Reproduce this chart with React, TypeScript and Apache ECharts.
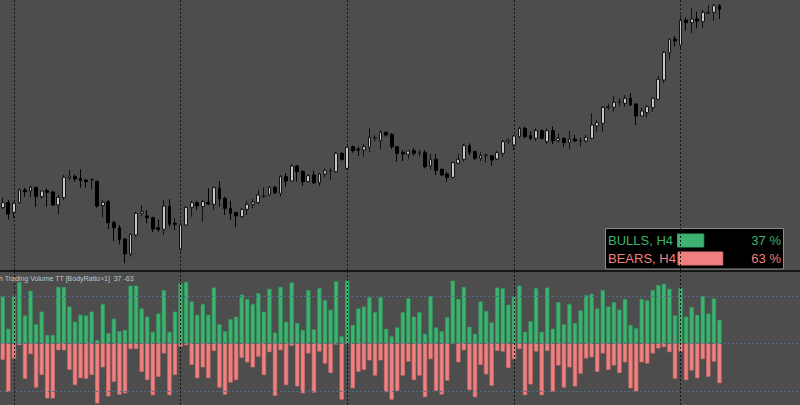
import React, { useEffect, useRef } from "react";
import * as echarts from "echarts";

// Price values (chart units, hidden price scale)
const opens = [
  187, 202, 173, 202, 240, 237, 248, 220, 238, 234, 195, 217, 277, 281, 275, 270, 270, 266, 193, 205,
  142, 127, 93, 48, 105, 170, 162, 157, 127, 122, 192, 140, 63, 135, 188, 202, 190, 203, 197, 245,
  215, 185, 172, 160, 182, 197, 202, 220, 225, 248, 230, 280, 267, 312, 295, 265, 285, 262, 288, 296,
  295, 350, 305, 370, 363, 360, 368, 395, 388, 413, 407, 370, 353, 347, 358, 351, 352, 312, 332, 302,
  288, 278, 320, 332, 373, 355, 335, 343, 343, 333, 350, 386, 375, 400, 425, 403, 395, 418, 385, 418,
  388, 395, 382, 393, 387, 387, 395, 432, 440, 487, 488, 502, 500, 515, 498, 462, 472, 487, 512, 570,
  652, 693, 675, 750, 742, 753, 745, 770, 773, 793,
];
const closes = [
  202, 168, 200, 240, 235, 248, 220, 237, 233, 195, 218, 278, 282, 273, 268, 265, 272, 192, 203, 142,
  127, 92, 48, 107, 170, 175, 157, 123, 122, 192, 137, 137, 135, 188, 202, 192, 205, 198, 247, 213,
  185, 170, 162, 182, 197, 204, 225, 222, 248, 232, 280, 267, 312, 295, 265, 283, 262, 288, 298, 298,
  350, 332, 368, 358, 360, 370, 398, 398, 413, 405, 370, 350, 348, 357, 350, 353, 310, 332, 298, 285,
  278, 322, 332, 373, 353, 335, 343, 345, 330, 352, 385, 390, 402, 425, 400, 395, 418, 395, 418, 388,
  395, 382, 393, 387, 388, 398, 435, 442, 488, 490, 503, 505, 515, 495, 462, 477, 490, 515, 572, 653,
  692, 687, 748, 742, 753, 747, 773, 773, 793, 782,
];
const lows = [
  183, 152, 155, 198, 220, 218, 190, 213, 190, 192, 167, 210, 270, 265, 247, 247, 242, 187, 157, 123,
  87, 77, 20, 40, 100, 160, 140, 113, 115, 105, 130, 120, 57, 132, 160, 180, 145, 195, 180, 190,
  165, 150, 128, 157, 165, 185, 198, 217, 220, 228, 220, 250, 265, 265, 252, 262, 258, 252, 278, 270,
  292, 328, 300, 352, 342, 340, 353, 385, 362, 400, 363, 325, 327, 333, 342, 340, 305, 300, 285, 282,
  265, 275, 318, 325, 345, 330, 327, 322, 313, 330, 340, 377, 360, 395, 395, 390, 387, 392, 378, 377,
  383, 370, 362, 383, 370, 383, 392, 415, 415, 480, 475, 492, 490, 492, 435, 460, 458, 475, 510, 560,
  632, 670, 660, 718, 710, 725, 725, 768, 748, 753,
];
const highs = [
  218, 210, 205, 245, 247, 253, 250, 240, 245, 237, 225, 285, 300, 287, 302, 272, 275, 268, 210, 210,
  148, 135, 95, 110, 175, 195, 180, 160, 152, 210, 212, 155, 140, 192, 208, 208, 210, 245, 250, 267,
  220, 207, 175, 185, 207, 214, 240, 248, 252, 252, 285, 290, 318, 315, 300, 288, 298, 292, 305, 305,
  355, 355, 370, 373, 370, 378, 425, 405, 420, 415, 410, 372, 360, 360, 367, 360, 360, 348, 348, 305,
  295, 325, 348, 378, 380, 358, 355, 350, 345, 357, 390, 395, 405, 430, 430, 415, 425, 422, 425, 430,
  410, 398, 418, 405, 398, 405, 470, 450, 492, 500, 522, 515, 525, 530, 500, 488, 495, 518, 582, 657,
  695, 702, 765, 758, 785, 775, 780, 795, 798, 798,
];

// Indicator: bull / bear share of each bar, percent
const bullPct = [
  74, 23, 76, 97, 44, 83, 30, 50, 13, 13, 89, 89, 58, 34, 45, 44, 50, 5, 62, 16,
  39, 19, 21, 91, 91, 55, 42, 18, 47, 84, 18, 50, 95, 97, 66, 45, 62, 45, 88, 30,
  19, 38, 42, 77, 70, 62, 79, 50, 86, 17, 89, 34, 96, 32, 21, 84, 22, 87, 68, 53,
  98, 11, 99, 29, 55, 58, 73, 49, 73, 23, 11, 25, 49, 71, 42, 49, 15, 75, 25, 19,
  41, 99, 70, 89, 26, 15, 66, 51, 33, 88, 87, 61, 75, 91, 18, 35, 87, 18, 88, 23,
  65, 30, 62, 32, 52, 76, 78, 55, 84, 58, 65, 53, 70, 29, 24, 70, 68, 84, 92, 94,
  86, 44, 87, 42, 57, 45, 75, 47, 71, 37,
];
const bearPct = [
  26, 77, 24, 3, 56, 17, 70, 50, 87, 87, 11, 11, 42, 66, 55, 56, 50, 95, 38, 84,
  61, 81, 79, 9, 9, 45, 58, 82, 53, 16, 82, 50, 5, 3, 34, 55, 38, 55, 12, 70,
  81, 62, 58, 23, 30, 38, 21, 50, 14, 83, 11, 66, 4, 68, 79, 16, 78, 13, 32, 47,
  2, 89, 1, 71, 45, 42, 27, 51, 27, 77, 89, 75, 51, 29, 58, 51, 85, 25, 75, 81,
  59, 1, 30, 11, 74, 85, 34, 49, 67, 12, 13, 39, 25, 9, 82, 65, 13, 82, 12, 77,
  35, 70, 38, 68, 48, 24, 22, 45, 16, 42, 35, 47, 30, 71, 76, 30, 32, 16, 8, 6,
  14, 56, 13, 58, 43, 55, 25, 53, 29, 63,
];
const levels = [75, 0, -75];

// H4 time labels (trading days only), including empty slots to the right edge
const TOTAL_SLOTS = 144;
function buildTimes(count: number): string[] {
  const out: string[] = [];
  let t = Date.UTC(2024, 2, 1, 16);
  const pad = (n: number) => String(n).padStart(2, "0");
  while (out.length < count) {
    const d = new Date(t);
    const wd = d.getUTCDay();
    if (wd !== 0 && wd !== 6) {
      out.push(`${d.getUTCFullYear()}.${pad(d.getUTCMonth() + 1)}.${pad(d.getUTCDate())} ${pad(d.getUTCHours())}:00`);
    }
    t += 4 * 3600 * 1000;
  }
  return out;
}
const categories = buildTimes(TOTAL_SLOTS);
const weekStarts = categories.filter((c, i) => i > 0 && new Date(c.slice(0, 10).replace(/\./g, "-") + "T00:00:00Z").getUTCDay() === 1 && c.endsWith(" 00:00"));

export default function App() {
  const ref = useRef<HTMLDivElement>(null);
  useEffect(() => {
    const chart = echarts.init(ref.current!, null, { renderer: "svg" });
    const slot = 5.58;
    const gLeft = -1.1;
    const gWidth = slot * TOTAL_SLOTS;
    const lastBull = bullPct[bullPct.length - 1];
    const lastBear = bearPct[bearPct.length - 1];
    const font = "Liberation Sans, Arial, sans-serif";

    chart.setOption({
      animation: false,
      backgroundColor: "#4d4d4d",
      grid: [
        { left: gLeft, top: 0, width: gWidth, height: 270 },
        { left: gLeft, top: 272, width: gWidth, height: 133 },
      ],
      xAxis: [
        { type: "category", gridIndex: 0, data: categories, boundaryGap: true, show: false },
        { type: "category", gridIndex: 1, data: categories, boundaryGap: true, show: false },
      ],
      yAxis: [
        { type: "value", gridIndex: 0, min: 0, max: 810, show: false, splitLine: { show: false } },
        { type: "value", gridIndex: 1, min: -97.5, max: 112.6, show: false, splitLine: { show: false } },
      ],
      series: [
        {
          name: "Price",
          type: "candlestick",
          xAxisIndex: 0,
          yAxisIndex: 0,
          barWidth: 3.2,
          data: opens.map((o, i) => [o, closes[i], lows[i], highs[i]]),
          itemStyle: {
            color: "#c6c6c6",
            color0: "#000000",
            borderColor: "#111111",
            borderColor0: "#000000",
            borderWidth: 1,
          },
          markLine: {
            silent: true,
            z: 1,
            symbol: "none",
            label: { show: false },
            lineStyle: { color: "#141414", type: [2, 2], width: 1 },
            data: weekStarts.map((c) => ({ xAxis: c })),
          },
        },
        {
          name: "Bulls",
          type: "bar",
          xAxisIndex: 1,
          yAxisIndex: 1,
          barWidth: 4.2,
          barGap: "-100%",
          data: bullPct,
          itemStyle: { color: "#3cb371", borderColor: "#2f9d5e", borderWidth: 0.6 },
          markLine: {
            silent: true,
            symbol: "none",
            label: { show: false },
            lineStyle: { color: "#4f6c88", type: [2, 2], width: 1 },
            data: levels.map((v) => ({ yAxis: v })),
          },
        },
        {
          name: "Bears",
          type: "bar",
          xAxisIndex: 1,
          yAxisIndex: 1,
          barWidth: 4.2,
          barGap: "-100%",
          data: bearPct.map((v) => -v),
          itemStyle: { color: "#f08080", borderColor: "#d96c6c", borderWidth: 0.6 },
          markLine: {
            silent: true,
            symbol: "none",
            label: { show: false },
            lineStyle: { color: "#141414", type: [2, 2], width: 1 },
            data: weekStarts.map((c) => ({ xAxis: c })),
          },
        },
      ],
      graphic: [
        { type: "rect", shape: { x: 0, y: 270, width: 800, height: 2 }, style: { fill: "#161616" }, z: 10 },
        {
          type: "text",
          x: -1,
          y: 278,
          z: 10,
          style: {
            text: `h Trading Volume TT [BodyRatio>1]  ${lastBull} -${lastBear}`,
            fill: "#c4c4c4",
            font: `7px ${font}`,
            textVerticalAlign: "middle",
          },
        },
        {
          type: "group",
          z: 20,
          children: [
            { type: "rect", shape: { x: 605.5, y: 228.5, width: 178, height: 40.5 }, style: { fill: "#000000", stroke: "#8c8c8c", lineWidth: 1 } },
            { type: "text", x: 608, y: 240.5, style: { text: "BULLS, H4", fill: "#3cb371", font: `13px ${font}`, textVerticalAlign: "middle" } },
            { type: "rect", shape: { x: 677.5, y: 234, width: lastBull * 0.71, height: 13 }, style: { fill: "#3cb371", stroke: "#35a566", lineWidth: 1 } },
            { type: "text", x: 781, y: 240.5, style: { text: `${lastBull} %`, fill: "#3cb371", font: `13px ${font}`, textAlign: "right", textVerticalAlign: "middle" } },
            { type: "text", x: 608, y: 258.5, style: { text: "BEARS, H4", fill: "#f08080", font: `13px ${font}`, textVerticalAlign: "middle" } },
            { type: "rect", shape: { x: 678, y: 252, width: lastBear * 0.71, height: 13 }, style: { fill: "#f08080", stroke: "#e07676", lineWidth: 1 } },
            { type: "text", x: 781, y: 258.5, style: { text: `${lastBear} %`, fill: "#f08080", font: `13px ${font}`, textAlign: "right", textVerticalAlign: "middle" } },
          ],
        },
      ],
    });
    return () => chart.dispose();
  }, []);
  return <div ref={ref} style={{ position: "fixed", left: 0, top: 0, width: 800, height: 405, overflow: "hidden" }} />;
}
